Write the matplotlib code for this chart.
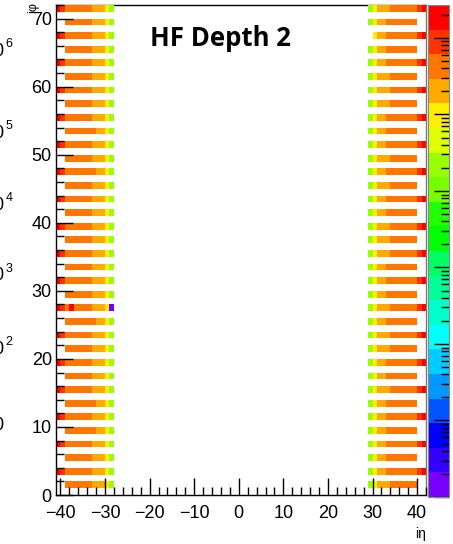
import numpy as np
import matplotlib.pyplot as plt
from matplotlib.colors import ListedColormap, LogNorm
from matplotlib.ticker import MultipleLocator, LogLocator, NullFormatter

plt.rcParams['font.family'] = ['Liberation Sans', 'DejaVu Sans']

# HF depth 2 occupancy map: ieta on each side, odd iphi rows
ieta_left = [-41, -40, -39, -38, -37, -36, -35, -34, -33, -32, -31, -30, -29]
ieta_right = [29, 30, 31, 32, 33, 34, 35, 36, 37, 38, 39, 40, 41]
iphi_rows = [1, 3, 5, 7, 9, 11, 13, 15, 17, 19, 21, 23, 25, 27, 29, 31, 33, 35,
             37, 39, 41, 43, 45, 47, 49, 51, 53, 55, 57, 59, 61, 63, 65, 67, 69, 71]

# typical counts along ieta (left: -41..-29, right: 29..41)
left_counts = [1.9e6, 8.9e5, 4.3e5, 4.3e5, 4.3e5, 4.3e5, 4.3e5, 4.3e5,
               2.0e5, 2.0e5, 2.0e5, 9.6e4, 2.2e4]
right_counts = [2.2e4, 9.6e4, 2.0e5, 2.0e5, 4.3e5, 4.3e5, 4.3e5, 4.3e5,
                4.3e5, 4.3e5, 4.3e5, 8.9e5, 1.9e6]

# rows that have the |ieta| = 40, 41 towers
rows_with_40_41 = [3, 7, 11, 15, 19, 23, 27, 31, 35, 39, 43, 47, 51, 55, 59, 63, 67, 71]
# rows where ieta -33 is orange instead of light orange
left_orange_33 = [9, 13, 25, 47, 53]
# rows where ieta 33 is light orange instead of orange
right_light_33 = [1, 15, 21, 23, 27, 35, 37, 39, 45, 49, 57, 59, 61, 71]
# single odd cells (iphi, ieta, count)
odd_cells = [(27, -29, 1.45), (27, -38, 1.9e6)]
empty_cells = [(67, 29)]

palette = ['#7700ff', '#3300ff', '#0000ff', '#0055ff', '#0099ff', '#00ccff',
           '#00ffff', '#00ffcc', '#00ff99', '#00ff66', '#00ff00', '#22ff00',
           '#77ff00', '#99ff00', '#ddff00', '#ffee00', '#ffaa00', '#ff7700',
           '#ff3300', '#ff0000']
zmin, zmax = 1.0, 2.7e6

# fill the histogram, bins [ieta, ieta+1) x [iphi, iphi+1)
xedges = np.arange(-41, 43)
yedges = np.arange(0, 73)
Z = np.full((72, 83), np.nan)
for phi in iphi_rows:
    for eta, v in zip(ieta_left, left_counts):
        Z[phi, eta + 41] = v
    for eta, v in zip(ieta_right, right_counts):
        Z[phi, eta + 41] = v
    if phi not in rows_with_40_41:
        for eta in (-41, -40, 40, 41):
            Z[phi, eta + 41] = np.nan
    if phi in left_orange_33:
        Z[phi, -33 + 41] = 4.3e5
    if phi in right_light_33:
        Z[phi, 33 + 41] = 2.0e5
for phi, eta, v in odd_cells:
    Z[phi, eta + 41] = v
for phi, eta in empty_cells:
    Z[phi, eta + 41] = np.nan
Z = np.ma.masked_invalid(Z)

fig = plt.figure(figsize=(4.53, 5.44), dpi=100)
ax = fig.add_axes([56 / 453, 49 / 544, 370 / 453, 490 / 544])
cax = fig.add_axes([428 / 453, 47 / 544, 21 / 453, 492 / 544])

pcm = ax.pcolormesh(xedges, yedges, Z, cmap=ListedColormap(palette),
                    norm=LogNorm(vmin=zmin, vmax=zmax), zorder=1)
ax.set_xlim(-41, 42)
ax.set_ylim(0, 72)
ax.set_axisbelow(False)

ax.xaxis.set_major_locator(MultipleLocator(10))
ax.xaxis.set_minor_locator(MultipleLocator(2))
ax.yaxis.set_major_locator(MultipleLocator(10))
ax.yaxis.set_minor_locator(MultipleLocator(2))
ax.tick_params(which='both', direction='in', top=False, right=False, width=1,
               labelsize=13, color='black')
ax.tick_params(which='major', length=12)
ax.tick_params(which='minor', length=6)
ax.tick_params(axis='x', pad=7)
ax.tick_params(axis='y', pad=3)
for s in ax.spines.values():
    s.set_linewidth(1)
ax.spines['top'].set_zorder(0.5)
ax.spines['right'].set_color('#777777')

fig.text(426 / 453, 1 - 527 / 544, 'iη', ha='right', va='top', fontsize=10)
fig.text(33 / 453, 1 - 8 / 544, 'iφ', rotation=90, ha='center', va='center', fontsize=9)

cb = fig.colorbar(pcm, cax=cax)
cb.outline.set_edgecolor('#888888')
cax.yaxis.set_major_locator(LogLocator(base=10))
cax.yaxis.set_minor_locator(LogLocator(base=10, subs=np.arange(2, 10)))
cax.yaxis.set_minor_formatter(NullFormatter())
cax.tick_params(which='both', direction='in', right=True, left=False,
                labelright=False, color='black', width=1)
cax.tick_params(which='major', length=11)
cax.tick_params(which='minor', length=6)

fig.text(0.487, 1 - 38 / 544, 'HF Depth 2', ha='center', va='center',
         fontsize=18.5, fontweight='bold', family=['Open Sans', 'DejaVu Sans'])

# colour-bar labels of the neighbouring panel, cut by the crop
side_exps = ['6', '5', '4', '3', '2', '']
side_y = [51, 133, 205, 276, 349, 426]
for ex, yy in zip(side_exps, side_y):
    fig.text(5 / 453, 1 - yy / 544, '10', ha='right', va='center', fontsize=13)
    if ex:
        fig.text(5.5 / 453, 1 - (yy - 7) / 544, ex, ha='left', va='center', fontsize=9)

fig.savefig('out.png', dpi=100)
